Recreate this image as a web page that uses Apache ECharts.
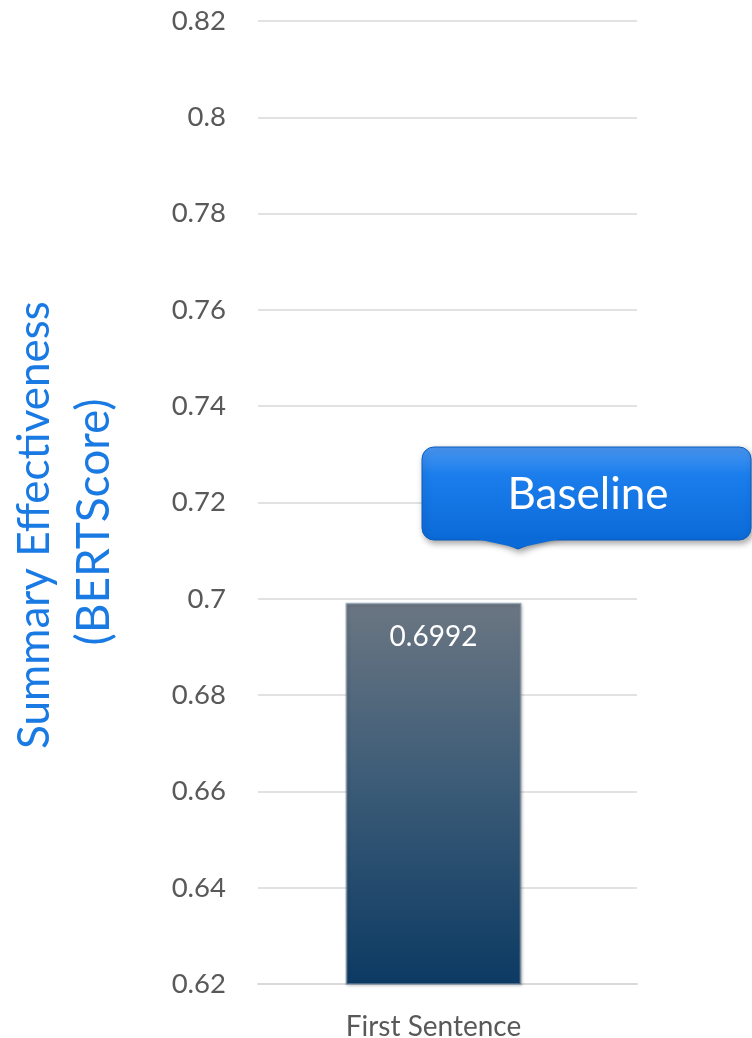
<!DOCTYPE html>
<html>
<head>
<meta charset="utf-8">
<script src="https://cdn.jsdelivr.net/npm/echarts@6/dist/echarts.min.js"></script>
<style>
html,body{margin:0;padding:0;background:#fff;}
#chart{width:752px;height:1038px;}
</style>
</head>
<body>
<div id="chart"></div>
<script>
const categories = ['First Sentence'];
const scores = [0.6992];
const yTicks = { min: 0.62, max: 0.82, interval: 0.02 };
const axisTitleLines = ['Summary Effectiveness', '(BERTScore)'];
const calloutText = 'Baseline';

const FONT = 'Lato, "Open Sans", sans-serif';
const chart = echarts.init(document.getElementById('chart'), null, { renderer: 'canvas' });

const calloutFill = new echarts.graphic.LinearGradient(0, 0, 0, 1, [
  { offset: 0, color: '#4a97f2' },
  { offset: 0.3, color: '#1b7eec' },
  { offset: 1, color: '#0a6ad8' }
]);

chart.setOption({
  animation: false,
  backgroundColor: '#ffffff',
  grid: { left: 258, right: 115, top: 21, bottom: 54, containLabel: false, outerBoundsMode: 'none' },
  xAxis: {
    type: 'category',
    data: categories,
    axisLine: { show: true, lineStyle: { color: '#d9d9d9', width: 2 } },
    axisTick: { show: false },
    axisLabel: { color: '#595959', fontSize: 28, fontFamily: FONT, margin: 29, padding: [0, 28, 0, 0] }
  },
  yAxis: {
    type: 'value',
    min: yTicks.min,
    max: yTicks.max,
    interval: yTicks.interval,
    axisLine: { show: false },
    axisTick: { show: false },
    splitLine: { lineStyle: { color: '#d9d9d9', width: 1.5 } },
    axisLabel: { color: '#595959', fontSize: 27.5, fontFamily: FONT, margin: 32,
      formatter: v => String(parseFloat(v.toFixed(2))) }
  },
  series: [
    {
      type: 'bar',
      data: scores,
      barWidth: 176,
      barGap: 0,
      itemStyle: {
        color: new echarts.graphic.LinearGradient(0, 0, 0, 1, [
          { offset: 0, color: '#6b7682' },
          { offset: 0.45, color: '#3e5d78' },
          { offset: 1, color: '#0c3a63' }
        ]),
        borderColor: 'rgba(120,140,160,0.6)',
        borderWidth: 2,
        shadowColor: 'rgba(0,0,0,0.25)',
        shadowBlur: 3,
        shadowOffsetX: 1,
        shadowOffsetY: 1
      },
      label: {
        show: true,
        position: 'insideTop',
        distance: 20,
        color: '#ffffff',
        fontSize: 28,
        fontFamily: FONT,
        formatter: p => p.value.toFixed(4)
      }
    },
    {
      type: 'bar',
      data: scores.map(() => 0),
      barWidth: 28,
      itemStyle: { color: 'transparent' },
      silent: true
    }
  ],
  graphic: [
    {
      type: 'text',
      x: 35, y: 525,
      rotation: Math.PI / 2,
      z: 100,
      style: { text: axisTitleLines[0], fill: '#1a7ae3', font: '44px ' + FONT, align: 'center', verticalAlign: 'middle' }
    },
    {
      type: 'text',
      x: 94, y: 522,
      rotation: Math.PI / 2,
      z: 100,
      style: { text: axisTitleLines[1], fill: '#1a7ae3', font: '46px ' + FONT, align: 'center', verticalAlign: 'middle' }
    },
    {
      type: 'polygon',
      z: 100,
      shape: { points: [[470, 530], [566, 530], [518, 549]] },
      style: { fill: '#0a6ad8', stroke: '#0b5cbf', lineWidth: 1,
        shadowColor: 'rgba(0,0,0,0.35)', shadowBlur: 6, shadowOffsetX: 2, shadowOffsetY: 3 }
    },
    {
      type: 'rect',
      z: 101,
      shape: { x: 422, y: 447, width: 329, height: 93, r: 12 },
      style: { fill: calloutFill, stroke: '#0b5cbf', lineWidth: 1,
        shadowColor: 'rgba(0,0,0,0.35)', shadowBlur: 6, shadowOffsetX: 2, shadowOffsetY: 3 }
    },
    {
      type: 'polygon',
      z: 102,
      shape: { points: [[472, 538], [564, 538], [518, 548]] },
      style: { fill: '#0a6ad8' }
    },
    {
      type: 'text',
      z: 103,
      x: 588, y: 495,
      style: { text: calloutText, fill: '#ffffff', font: '44px ' + FONT, align: 'center', verticalAlign: 'middle' }
    }
  ]
});
</script>
</body>
</html>
